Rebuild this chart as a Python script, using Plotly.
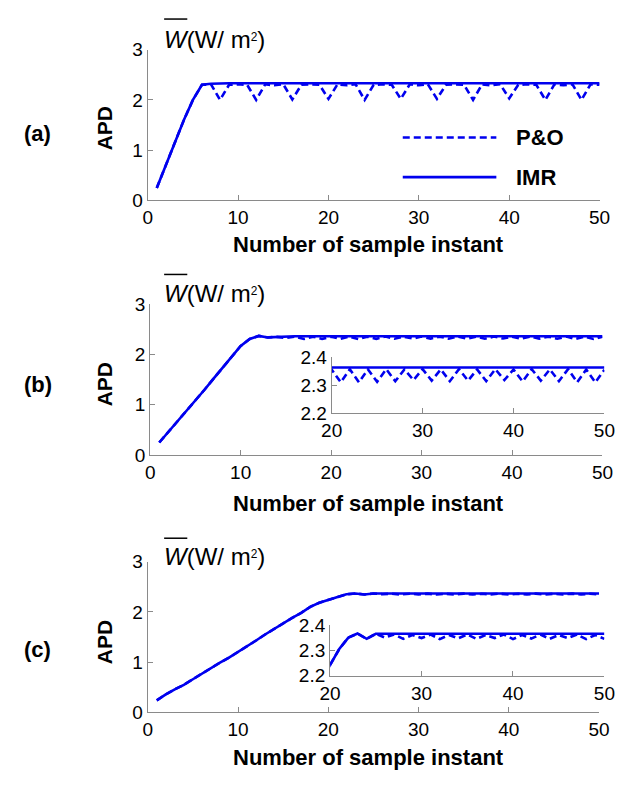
import plotly.graph_objects as go

# ---------------- data ----------------
samples = list(range(1, 51))

# panel (a)
imr_a = [0.25, 0.70, 1.15, 1.60, 2.00, 2.30, 2.32, 2.33, 2.33, 2.33,
         2.33, 2.33, 2.33, 2.33, 2.33, 2.33, 2.33, 2.33, 2.33, 2.33,
         2.33, 2.33, 2.33, 2.33, 2.33, 2.33, 2.33, 2.33, 2.33, 2.33,
         2.33, 2.33, 2.33, 2.33, 2.33, 2.33, 2.33, 2.33, 2.33, 2.33,
         2.33, 2.33, 2.33, 2.33, 2.33, 2.33, 2.33, 2.33, 2.33, 2.33]
po_a = [0.25, 0.70, 1.15, 1.60, 2.00, 2.30, 2.31, 2.00, 2.30, 2.31,
        2.30, 2.00, 2.31, 2.29, 2.31, 2.01, 2.30, 2.31, 2.30, 2.02,
        2.31, 2.29, 2.31, 2.00, 2.30, 2.31, 2.30, 2.02, 2.31, 2.29,
        2.31, 2.02, 2.30, 2.31, 2.30, 2.00, 2.31, 2.29, 2.31, 2.03,
        2.30, 2.31, 2.30, 2.00, 2.31, 2.29, 2.31, 2.00, 2.31, 2.30]

# panel (b)
imr_b = [0.25, 0.46, 0.66, 0.87, 1.07, 1.30, 1.52, 1.74, 1.95, 2.17,
         2.31, 2.37, 2.34, 2.35, 2.36, 2.363, 2.363, 2.363, 2.363, 2.363,
         2.363, 2.363, 2.363, 2.363, 2.363, 2.363, 2.363, 2.363, 2.363, 2.363,
         2.363, 2.363, 2.363, 2.363, 2.363, 2.363, 2.363, 2.363, 2.363, 2.363,
         2.363, 2.363, 2.363, 2.363, 2.363, 2.363, 2.363, 2.363, 2.363, 2.363]
po_b = [0.25, 0.46, 0.66, 0.87, 1.07, 1.30, 1.52, 1.74, 1.95, 2.17,
        2.31, 2.37, 2.34, 2.35, 2.33, 2.355, 2.31, 2.356, 2.31, 2.356,
        2.310, 2.357, 2.310, 2.356, 2.312, 2.357, 2.314, 2.356, 2.318, 2.357,
        2.316, 2.356, 2.314, 2.357, 2.316, 2.356, 2.314, 2.357, 2.318, 2.356,
        2.313, 2.357, 2.316, 2.356, 2.314, 2.357, 2.310, 2.356, 2.310, 2.355]

# panel (c)
imr_c = [0.24, 0.36, 0.46, 0.55, 0.66, 0.77, 0.89, 0.99, 1.09, 1.20,
         1.32, 1.43, 1.55, 1.66, 1.78, 1.88, 1.98, 2.10, 2.18, 2.24,
         2.305, 2.35, 2.366, 2.345, 2.365, 2.365, 2.365, 2.365, 2.365, 2.365,
         2.365, 2.365, 2.365, 2.365, 2.365, 2.365, 2.365, 2.365, 2.365, 2.365,
         2.365, 2.365, 2.365, 2.365, 2.365, 2.365, 2.365, 2.365, 2.365, 2.365]
po_c = [0.24, 0.36, 0.46, 0.55, 0.66, 0.77, 0.89, 0.99, 1.09, 1.20,
        1.32, 1.43, 1.55, 1.66, 1.78, 1.88, 1.98, 2.10, 2.18, 2.24,
        2.305, 2.35, 2.366, 2.345, 2.365, 2.350, 2.362, 2.345, 2.360, 2.348,
        2.362, 2.344, 2.360, 2.347, 2.362, 2.345, 2.360, 2.348, 2.362, 2.344,
        2.360, 2.346, 2.362, 2.345, 2.360, 2.348, 2.362, 2.344, 2.360, 2.345]

main_xticks = [0, 10, 20, 30, 40, 50]
main_yticks = [0, 1, 2, 3]
inset_xticks = [20, 30, 40, 50]
inset_yticks = [2.2, 2.3, 2.4]
inset_yticktext = ["2.2", "2.3", "2.4"]

panel_labels = ["(a)", "(b)", "(c)"]
legend_names = ["P&O", "IMR"]
x_title = "Number of sample instant"
y_title = "APD"

# ---------------- styling ----------------
W, H = 627, 787
BLUE = "#0000ee"
AXC = "#8a8a8a"
FONT = "Liberation Sans, Arial, sans-serif"
DASH = "7px,4px"
LW = 2.6


def px(x):
    return x / W


def py(y):
    return 1 - y / H


fig = go.Figure()

# axis pixel boxes: (x0, x1, ybottom, ytop)
main_boxes = [
    (141.7, 610.0, 195.7, 40.7),
    (144.3, 613.0, 457.3, 302.3),
    (141.7, 609.5, 721.7, 566.7),
]
inset_boxes = {
    1: (332.3, 615.0, 414.0, 356.7),
    2: (330.7, 615.0, 684.0, 631.7),
}

series = [(po_a, imr_a), (po_b, imr_b), (po_c, imr_c)]

axis_common = dict(
    showgrid=False, zeroline=False, showline=True, linecolor=AXC, linewidth=1,
    ticks="inside", ticklen=5, tickcolor=AXC, tickwidth=1,
    tickfont=dict(family=FONT, size=19, color="black"),
)

ax_i = 0
layout_axes = {}


def add_axes(box, xr, yr, xt, yt, ytt=None):
    global ax_i
    ax_i += 1
    sfx = "" if ax_i == 1 else str(ax_i)
    x0, x1, yb, yt_ = box
    layout_axes["xaxis" + sfx] = dict(
        domain=[px(x0), px(x1)], range=xr, tickvals=xt, anchor="y" + sfx,
        **axis_common)
    yd = dict(domain=[py(yb), py(yt_)], range=yr, tickvals=yt,
              anchor="x" + sfx, **axis_common)
    if ytt is not None:
        yd["ticktext"] = ytt
    layout_axes["yaxis" + sfx] = yd
    return "x" + sfx, "y" + sfx


for i, (po, imr) in enumerate(series):
    xa, ya = add_axes(main_boxes[i], [0, 50], [0, 3], main_xticks, main_yticks)
    fig.add_trace(go.Scatter(x=samples, y=po, mode="lines", xaxis=xa, yaxis=ya,
                             line=dict(color=BLUE, width=LW, dash=DASH),
                             name=legend_names[0], showlegend=False))
    fig.add_trace(go.Scatter(x=samples, y=imr, mode="lines", xaxis=xa, yaxis=ya,
                             line=dict(color=BLUE, width=LW),
                             name=legend_names[1], showlegend=False))
    if i in inset_boxes:
        xa2, ya2 = add_axes(inset_boxes[i], [20, 50], [2.2, 2.4], inset_xticks,
                            inset_yticks, inset_yticktext)
        fig.add_trace(go.Scatter(x=samples, y=po, mode="lines", xaxis=xa2, yaxis=ya2,
                                 line=dict(color=BLUE, width=LW, dash=DASH),
                                 showlegend=False))
        fig.add_trace(go.Scatter(x=samples, y=imr, mode="lines", xaxis=xa2, yaxis=ya2,
                                 line=dict(color=BLUE, width=LW),
                                 showlegend=False))

annotations = []
shapes = []

label_y = [126.7, 385.0, 656.7]
apd_y = [122.0, 385.0, 650.0]
w_y = [30.0, 291.5, 561.0]
over_y = [9.3, 271.7, 542.7]
title_y = [241.0, 507.0, 768.0]

for i in range(3):
    annotations.append(dict(text="<b>%s</b>" % panel_labels[i], x=px(27.7), y=py(label_y[i]),
                            xref="paper", yref="paper", showarrow=False,
                            xanchor="center", yanchor="middle",
                            font=dict(family=FONT, size=22, color="black")))
    annotations.append(dict(text="<b>%s</b>" % y_title, x=px(97), y=py(apd_y[i]),
                            xref="paper", yref="paper", showarrow=False, textangle=-90,
                            xanchor="center", yanchor="middle",
                            font=dict(family=FONT, size=21, color="black")))
    annotations.append(dict(text="<i>W</i>(W/ m<span style='font-size:17px'><sup>2</sup></span>)",
                            x=px(156.0), y=py(w_y[i]),
                            xref="paper", yref="paper", showarrow=False,
                            xanchor="left", yanchor="middle",
                            font=dict(family=FONT, size=24, color="black")))
    shapes.append(dict(type="line", xref="paper", yref="paper",
                       x0=px(158.7), x1=px(182.7), y0=py(over_y[i]), y1=py(over_y[i]),
                       line=dict(color="black", width=1.5)))
    annotations.append(dict(text="<b>%s</b>" % x_title, x=px(370), y=py(title_y[i]),
                            xref="paper", yref="paper", showarrow=False,
                            xanchor="center", yanchor="middle",
                            font=dict(family=FONT, size=22, color="black")))

# legend for panel (a)
leg_rows = [(131.0, DASH, legend_names[0]), (171.7, "solid", legend_names[1])]
for yy, dsh, name in leg_rows:
    shapes.append(dict(type="line", xref="paper", yref="paper",
                       x0=px(406), x1=px(503), y0=py(yy), y1=py(yy),
                       line=dict(color=BLUE, width=LW, dash=dsh)))
    annotations.append(dict(text="<b>%s</b>" % name, x=px(521), y=py(yy),
                            xref="paper", yref="paper", showarrow=False,
                            xanchor="left", yanchor="middle",
                            font=dict(family=FONT, size=22, color="black")))

fig.update_layout(
    width=W, height=H, margin=dict(l=0, r=0, t=0, b=0),
    paper_bgcolor="white", plot_bgcolor="rgba(0,0,0,0)",
    showlegend=False, annotations=annotations, shapes=shapes,
    **layout_axes,
)

fig.write_html(
    "out.html",
    config={"displayModeBar": False},
    post_script="document.body.style.margin='0';document.body.style.overflow='hidden';",
)
